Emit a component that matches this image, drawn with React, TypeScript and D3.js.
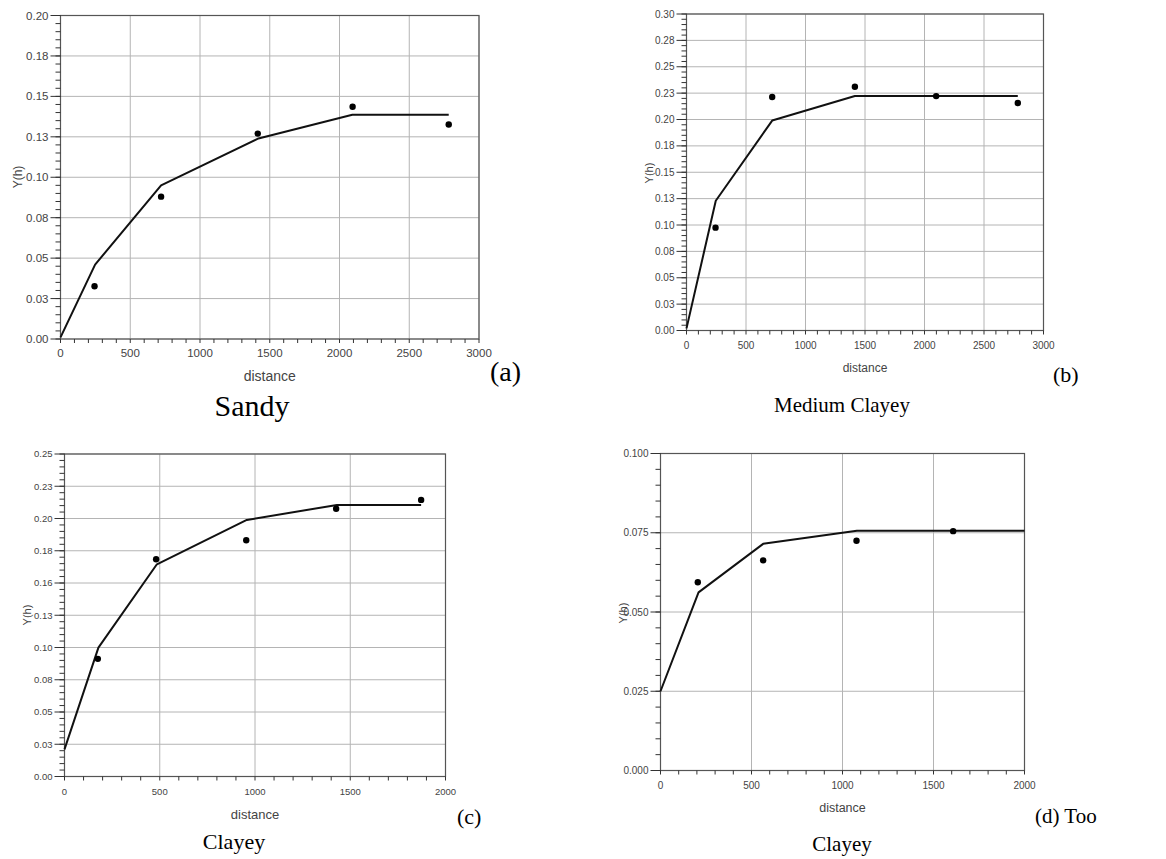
import React from "react";
import * as d3 from "d3";

// ---------- data ----------
const aModelX = [0, 248, 721, 1419, 2092, 2783];
const aModelY = [0.001, 0.046, 0.095, 0.124, 0.1386, 0.1386];
const aPtsX = [244, 721, 1414, 2094, 2783];
const aPtsY = [0.0326, 0.088, 0.127, 0.1436, 0.1326];
const aYLabels = ["0.00", "0.03", "0.05", "0.08", "0.10", "0.13", "0.15", "0.18", "0.20"];

const bModelX = [0, 246, 720, 1415, 2784];
const bModelY = [0.002, 0.123, 0.199, 0.2222, 0.2222];
const bPtsX = [244, 720, 1415, 2098, 2784];
const bPtsY = [0.0975, 0.2213, 0.231, 0.2222, 0.2156];
const bYLabels = ["0.00", "0.03", "0.05", "0.08", "0.10", "0.13", "0.15", "0.18", "0.20", "0.23", "0.25", "0.28", "0.30"];

const cModelX = [0, 178, 485, 957, 1430, 1872];
const cModelY = [0.021, 0.0999, 0.1645, 0.1989, 0.2105, 0.2105];
const cPtsX = [175, 481, 954, 1426, 1872];
const cPtsY = [0.0912, 0.1684, 0.1831, 0.2076, 0.2144];
const cYLabels = ["0.00", "0.03", "0.05", "0.08", "0.10", "0.13", "0.16", "0.18", "0.20", "0.23", "0.25"];

const dModelX = [0, 209, 564, 1079, 2000];
const dModelY = [0.025, 0.0562, 0.0715, 0.0756, 0.0756];
const dPtsX = [205, 564, 1077, 1608];
const dPtsY = [0.0594, 0.0663, 0.0725, 0.0755];
const dYLabels = ["0.000", "0.025", "0.050", "0.075", "0.100"];

const xLabels3000 = ["0", "500", "1000", "1500", "2000", "2500", "3000"];
const xLabels2000 = ["0", "500", "1000", "1500", "2000"];

const SANS = "'Liberation Sans', Arial, sans-serif";
const SERIF = "'Liberation Serif', 'Times New Roman', serif";

type PanelProps = {
  box: { l: number; r: number; t: number; b: number };
  xMax: number;
  xLabels: string[];
  yLabels: string[];
  modelX: number[];
  modelY: number[];
  ptsX: number[];
  ptsY: number[];
  tickFont: number;
  distFont: number;
  distY: number;
  yhFont: number;
  yhX: number;
  yhY: number;
};

function Panel(p: PanelProps) {
  const yStep = 0.025;
  const yMax = yStep * (p.yLabels.length - 1);
  const x = d3.scaleLinear().domain([0, p.xMax]).range([p.box.l, p.box.r]);
  const y = d3.scaleLinear().domain([0, yMax]).range([p.box.b, p.box.t]);
  const xMajor = p.xLabels.map((s) => +s);
  const xMinor = d3.range(0, p.xMax + 1, 100);
  const yMajor = p.yLabels.map((_, i) => i * yStep);
  const yMinor = d3.range(0, Math.round(yMax / 0.005) + 1).map((i) => i * 0.005);
  const line = d3
    .line<number>()
    .x((_, i) => x(p.modelX[i]))
    .y((v) => y(v));
  return (
    <g>
      {/* grid */}
      {xMajor.map((v) => (
        <line key={"gx" + v} x1={x(v)} x2={x(v)} y1={p.box.t} y2={p.box.b} stroke="#b4b4b4" strokeWidth={1} />
      ))}
      {yMajor.map((v, i) => (
        <line key={"gy" + i} x1={p.box.l} x2={p.box.r} y1={y(v)} y2={y(v)} stroke="#b4b4b4" strokeWidth={1} />
      ))}
      {/* frame */}
      <rect x={p.box.l} y={p.box.t} width={p.box.r - p.box.l} height={p.box.b - p.box.t} fill="none" stroke="#555" strokeWidth={1.2} />
      {/* y ticks */}
      {yMinor.map((v, i) => (
        <line key={"ym" + i} x1={p.box.l - 5} x2={p.box.l} y1={y(v)} y2={y(v)} stroke="#333" strokeWidth={1} />
      ))}
      {yMajor.map((v, i) => (
        <line key={"yM" + i} x1={p.box.l - 10} x2={p.box.l} y1={y(v)} y2={y(v)} stroke="#333" strokeWidth={1} />
      ))}
      {p.yLabels.map((s, i) => (
        <text key={"yl" + i} x={p.box.l - 12} y={y(yMajor[i])} dy="0.35em" textAnchor="end" fontFamily={SANS} fontSize={p.tickFont} fill="#444">
          {s}
        </text>
      ))}
      {/* x ticks */}
      {xMinor.map((v) => (
        <line key={"xm" + v} x1={x(v)} x2={x(v)} y1={p.box.b} y2={p.box.b + 4} stroke="#333" strokeWidth={1} />
      ))}
      {p.xLabels.map((s, i) => (
        <text key={"xl" + i} x={x(xMajor[i])} y={p.box.b + 18} textAnchor="middle" fontFamily={SANS} fontSize={p.tickFont} fill="#444">
          {s}
        </text>
      ))}
      {/* axis labels */}
      <text x={(p.box.l + p.box.r) / 2} y={p.distY} textAnchor="middle" fontFamily={SANS} fontSize={p.distFont} fill="#444">
        distance
      </text>
      <text
        transform={`translate(${p.yhX},${p.yhY}) rotate(-90)`}
        textAnchor="middle"
        dy="0.35em"
        fontFamily={SANS}
        fontSize={p.yhFont}
        fill="#444"
      >
        Y(h)
      </text>
      {/* model line */}
      <path d={line(p.modelY) || ""} fill="none" stroke="#111" strokeWidth={2} strokeLinejoin="round" />
      {/* points */}
      {p.ptsX.map((v, i) => (
        <circle key={"pt" + i} cx={x(v)} cy={y(p.ptsY[i])} r={3.2} fill="#000" />
      ))}
    </g>
  );
}

export default function App() {
  return (
    <svg
      width={1166}
      height={859}
      style={{ position: "absolute", left: 0, top: 0, background: "#fff" }}
    >
      <rect x={0} y={0} width={1166} height={859} fill="#fff" />
      <Panel
        box={{ l: 60.5, r: 479, t: 15.5, b: 339 }}
        xMax={3000}
        xLabels={xLabels3000}
        yLabels={aYLabels}
        modelX={aModelX}
        modelY={aModelY}
        ptsX={aPtsX}
        ptsY={aPtsY}
        tickFont={11.5}
        distFont={14}
        distY={381}
        yhFont={12}
        yhX={18}
        yhY={177}
      />
      <Panel
        box={{ l: 686.5, r: 1043.5, t: 14, b: 330.5 }}
        xMax={3000}
        xLabels={xLabels3000}
        yLabels={bYLabels}
        modelX={bModelX}
        modelY={bModelY}
        ptsX={bPtsX}
        ptsY={bPtsY}
        tickFont={10}
        distFont={12}
        distY={372}
        yhFont={11}
        yhX={649}
        yhY={173}
      />
      <Panel
        box={{ l: 64.5, r: 445.5, t: 454, b: 776.5 }}
        xMax={2000}
        xLabels={xLabels2000}
        yLabels={cYLabels}
        modelX={cModelX}
        modelY={cModelY}
        ptsX={cPtsX}
        ptsY={cPtsY}
        tickFont={9.5}
        distFont={13}
        distY={819}
        yhFont={11}
        yhX={27}
        yhY={615}
      />
      <Panel
        box={{ l: 660.5, r: 1024.5, t: 453.5, b: 770.5 }}
        xMax={2000}
        xLabels={xLabels2000}
        yLabels={dYLabels}
        modelX={dModelX}
        modelY={dModelY}
        ptsX={dPtsX}
        ptsY={dPtsY}
        tickFont={10}
        distFont={12.5}
        distY={812}
        yhFont={11}
        yhX={623}
        yhY={613}
      />
      {/* captions */}
      <text x={490} y={381} fontFamily={SERIF} fontSize={28} fill="#000">(a)</text>
      <text x={252} y={416} textAnchor="middle" fontFamily={SERIF} fontSize={30} fill="#000">Sandy</text>
      <text x={1053} y={382} fontFamily={SERIF} fontSize={22} fill="#000">(b)</text>
      <text x={842} y={412} textAnchor="middle" fontFamily={SERIF} fontSize={21} fill="#000">Medium Clayey</text>
      <text x={457} y={824} fontFamily={SERIF} fontSize={22} fill="#000">(c)</text>
      <text x={234} y={849} textAnchor="middle" fontFamily={SERIF} fontSize={22} fill="#000">Clayey</text>
      <text x={1035} y={823} fontFamily={SERIF} fontSize={21} fill="#000">(d) Too</text>
      <text x={842} y={851} textAnchor="middle" fontFamily={SERIF} fontSize={21} fill="#000">Clayey</text>
    </svg>
  );
}
